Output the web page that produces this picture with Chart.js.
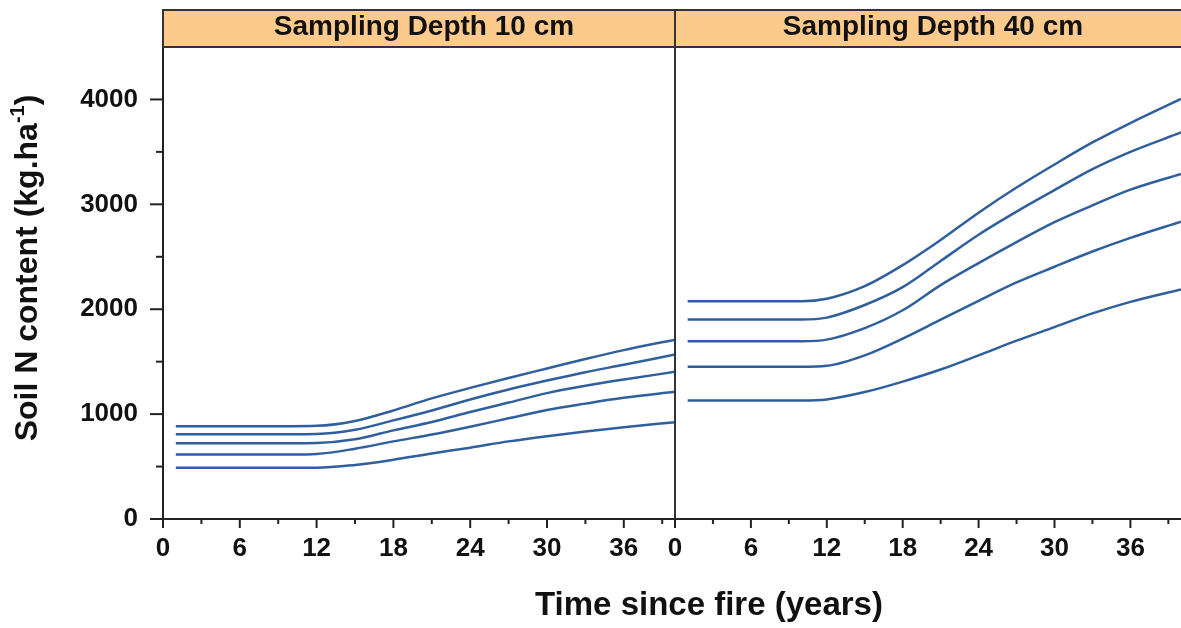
<!DOCTYPE html>
<html>
<head>
<meta charset="utf-8">
<script src="https://cdn.jsdelivr.net/npm/chart.js@4.4.1/dist/chart.umd.min.js"></script>
<style>
  html, body { margin: 0; padding: 0; background: #ffffff; }
  #wrap { position: relative; width: 1181px; height: 628px; overflow: hidden; background: #fff; }
  #c1 { position: absolute; left: 0; top: 0; }
  #c2 { position: absolute; left: 640px; top: 0; }
  #xtitle { position: absolute; left: 409px; width: 600px; top: 587px; text-align: center;
            font: bold 33px "Liberation Sans", Arial, sans-serif; line-height: 33px; color: #111; white-space: nowrap; }
</style>
</head>
<body>
<div id="wrap">
  <canvas id="c1" width="700" height="628"></canvas>
  <canvas id="c2" width="541" height="628"></canvas>
  <div id="xtitle">Time since fire (years)</div>
</div>
<script>
// ---------------- DATA ----------------
const years = [1, 5, 10, 12, 15, 18, 21, 24, 27, 30, 33, 36, 40];

const panelTitles = ["Sampling Depth 10 cm", "Sampling Depth 40 cm"];

// Sampling depth 10 cm (five curves, top to bottom)
const d10_a = [885, 885, 885, 888, 935, 1035, 1150, 1250, 1345, 1435, 1525, 1610, 1710];
const d10_b = [808, 808, 808, 810, 850, 940, 1035, 1140, 1235, 1320, 1400, 1470, 1568];
const d10_c = [723, 723, 723, 725, 760, 845, 925, 1020, 1110, 1200, 1270, 1330, 1403];
const d10_d = [615, 615, 615, 620, 670, 740, 805, 880, 960, 1040, 1100, 1155, 1213];
const d10_e = [488, 488, 488, 488, 515, 565, 625, 680, 740, 790, 835, 875, 923];

// Sampling depth 40 cm (five curves, top to bottom)
const d40_a = [2076, 2076, 2076, 2100, 2220, 2420, 2660, 2920, 3160, 3380, 3590, 3775, 4005];
const d40_b = [1902, 1902, 1902, 1920, 2040, 2210, 2460, 2710, 2930, 3135, 3335, 3500, 3685];
const d40_c = [1695, 1695, 1695, 1710, 1820, 1990, 2230, 2440, 2640, 2830, 2990, 3140, 3290];
const d40_d = [1451, 1451, 1451, 1460, 1560, 1720, 1900, 2080, 2255, 2405, 2550, 2680, 2835];
const d40_e = [1130, 1130, 1130, 1140, 1210, 1310, 1425, 1560, 1700, 1830, 1960, 2070, 2188];

const xMajorTicks = [0, 6, 12, 18, 24, 30, 36];
const xMinorTicks = [3, 9, 15, 21, 27, 33, 39];
const yMajorTicks = [0, 1000, 2000, 3000, 4000];
const yMinorTicks = [500, 1500, 2500, 3500];

const yTitleMain = "Soil N content (kg.ha";
const yTitleSup = "-1";
const yTitleEnd = ")";

// ---------------- STYLE ----------------
const FONT = '"Liberation Sans", Arial, sans-serif';
const AXIS = '#222222';
const LINE = '#2f5f9c';
const HEADER_FILL = '#fccb8c';
const TEXT = '#111111';

Chart.defaults.font.family = FONT;

function toPoints(arr) { return years.map((x, i) => ({ x: x, y: arr[i] })); }
function makeDatasets(list) {
  return list.map(arr => ({
    data: toPoints(arr),
    borderColor: LINE,
    borderWidth: 2.5,
    pointRadius: 0,
    fill: false,
    cubicInterpolationMode: 'monotone'
  }));
}

function line(ctx, x1, y1, x2, y2) { ctx.beginPath(); ctx.moveTo(x1, y1); ctx.lineTo(x2, y2); ctx.stroke(); }

const tickPlugin = {
  id: 'customTicks',
  afterDraw(chart) {
    const ctx = chart.ctx, xs = chart.scales.x, ys = chart.scales.y;
    ctx.save();
    ctx.strokeStyle = AXIS; ctx.lineWidth = 2;
    xMajorTicks.forEach(v => { const p = xs.getPixelForValue(v); line(ctx, p, xs.top, p, xs.top + 9); });
    xMinorTicks.forEach(v => { const p = xs.getPixelForValue(v); line(ctx, p, xs.top, p, xs.top + 5); });
    if (ys.options.display) {
      const r = chart.chartArea.left;
      yMajorTicks.forEach(v => { const p = ys.getPixelForValue(v); line(ctx, r - 13, p, r, p); });
      yMinorTicks.forEach(v => { const p = ys.getPixelForValue(v); line(ctx, r - 7, p, r, p); });
    }
    ctx.restore();
  }
};

function headerPlugin(idx, extendRight, drawLeftDivider) {
  return {
    id: 'header' + idx,
    afterDraw(chart) {
      const ctx = chart.ctx, a = chart.chartArea;
      const top = 10, bottom = a.top;
      const right = a.right + extendRight;
      ctx.save();
      ctx.fillStyle = HEADER_FILL;
      ctx.fillRect(a.left, top, right - a.left, bottom - top);
      ctx.strokeStyle = '#333333'; ctx.lineWidth = 2;
      ctx.strokeRect(a.left, top, right - a.left, bottom - top);
      ctx.fillStyle = TEXT;
      ctx.font = 'bold 28px ' + FONT;
      ctx.textAlign = 'center'; ctx.textBaseline = 'alphabetic';
      ctx.fillText(panelTitles[idx], (a.left + a.right) / 2 + 5, 35);
      if (drawLeftDivider) {
        ctx.strokeStyle = '#333333'; ctx.lineWidth = 2;
        line(ctx, a.left, top, a.left, a.bottom);
      }
      ctx.restore();
    }
  };
}

const yTitlePlugin = {
  id: 'yTitle',
  afterDraw(chart) {
    const ctx = chart.ctx;
    const main = 'bold 32px ' + FONT, sup = 'bold 20px ' + FONT;
    ctx.save();
    ctx.font = main;
    const w1 = ctx.measureText(yTitleMain).width, w3 = ctx.measureText(yTitleEnd).width;
    ctx.font = sup;
    const w2 = ctx.measureText(yTitleSup).width;
    const total = w1 + w2 + w3;
    ctx.translate(37, 268);
    ctx.rotate(-Math.PI / 2);
    ctx.fillStyle = TEXT; ctx.textAlign = 'left'; ctx.textBaseline = 'alphabetic';
    let s = -total / 2;
    ctx.font = main; ctx.fillText(yTitleMain, s, 0); s += w1;
    ctx.font = sup; ctx.fillText(yTitleSup, s, -13); s += w2;
    ctx.font = main; ctx.fillText(yTitleEnd, s, 0);
    ctx.restore();
  }
};

function xScale() {
  return {
    type: 'linear', min: 0, max: 40,
    border: { display: true, color: AXIS, width: 2 },
    grid: { display: true, drawOnChartArea: false, drawTicks: true, tickLength: 9, tickColor: 'rgba(0,0,0,0)' },
    ticks: {
      stepSize: 3, includeBounds: false, autoSkip: false, maxRotation: 0, minRotation: 0, padding: 5,
      color: TEXT, font: { size: 26, weight: 'bold', family: FONT },
      callback: v => (xMajorTicks.includes(v) ? String(v) : '')
    },
    afterFit: s => { s.height = 109; }
  };
}

function baseOptions(showY, padLeft, padRight) {
  return {
    responsive: false, animation: false, devicePixelRatio: 1,
    layout: { padding: { top: 47, left: padLeft, right: padRight, bottom: 0 } },
    plugins: { legend: { display: false }, tooltip: { enabled: false }, title: { display: false } },
    scales: {
      x: xScale(),
      y: {
        type: 'linear', min: 0, max: 4500, display: showY,
        border: { display: true, color: AXIS, width: 2 },
        grid: { display: true, drawOnChartArea: false, drawTicks: true, tickLength: 13, tickColor: 'rgba(0,0,0,0)' },
        ticks: {
          stepSize: 500, autoSkip: false, padding: 12, color: TEXT,
          font: { size: 26, weight: 'bold', family: FONT },
          callback: v => (yMajorTicks.includes(v) ? String(v) : '')
        },
        afterFit: s => { s.width = showY ? 163 : 0; }
      }
    }
  };
}

new Chart(document.getElementById('c1'), {
  type: 'line',
  data: { datasets: makeDatasets([d10_a, d10_b, d10_c, d10_d, d10_e]) },
  options: baseOptions(true, 0, 25),
  plugins: [tickPlugin, headerPlugin(0, 0, false), yTitlePlugin]
});

new Chart(document.getElementById('c2'), {
  type: 'line',
  data: { datasets: makeDatasets([d40_a, d40_b, d40_c, d40_d, d40_e]) },
  options: baseOptions(false, 35, 0),
  plugins: [tickPlugin, headerPlugin(1, 20, true)]
});
</script>
</body>
</html>
